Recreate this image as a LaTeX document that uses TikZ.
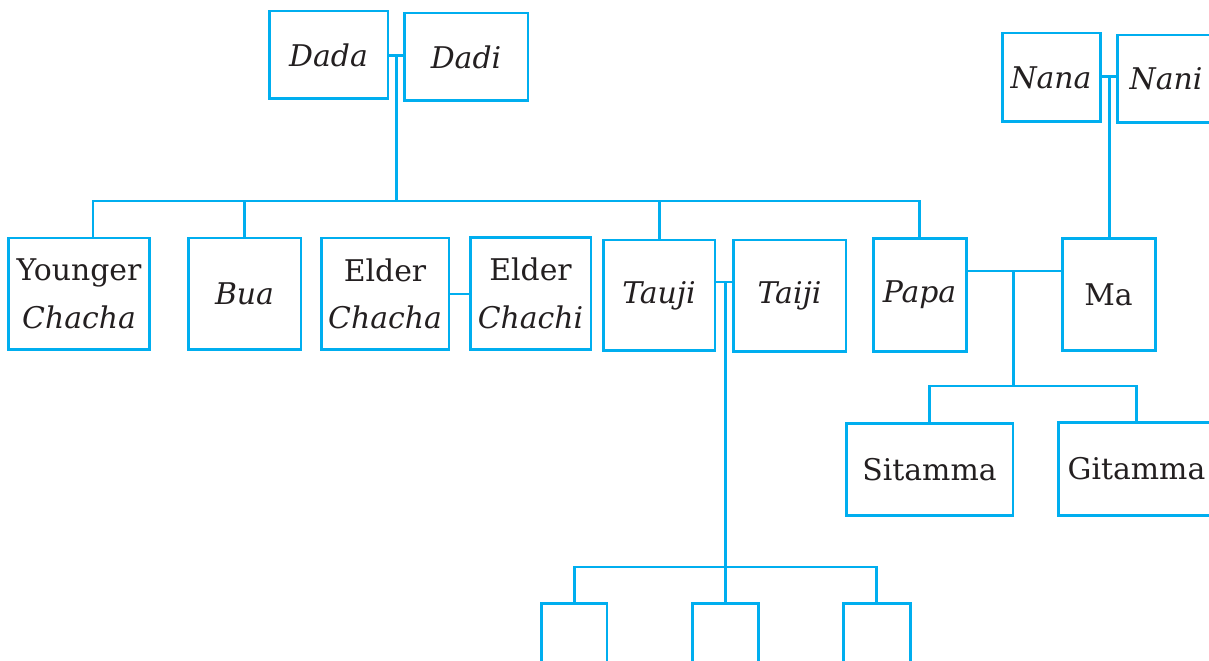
\documentclass[tikz,border=0pt]{standalone}
\usepackage{fontspec}
\setmainfont{DejaVu Serif}
\definecolor{ncyan}{RGB}{0,174,239}
\definecolor{ink}{RGB}{35,31,32}

\begin{document}
\begin{tikzpicture}[x={(0.02cm,0cm)},y={(0cm,-0.02cm)},
    box/.style={draw=ncyan,line width=1.7pt,inner sep=0pt,align=center,text=ink,
        font=\fontsize{17}{27}\selectfont},
    link/.style={draw=ncyan,line width=1.7pt}]
        \useasboundingbox (0,0) rectangle (1209,661);
        % 祖父母
        \node[box,minimum width=2.38cm,minimum height=1.76cm] (dada) at (328.5,55) {\textit{Dada}};
        \node[box,minimum width=2.48cm,minimum height=1.76cm] (dadi) at (466,57) {\textit{Dadi}};
        \node[box,minimum width=1.96cm,minimum height=1.78cm] (nana) at (1051,77.5) {\textit{Nana}};
        \node[box,minimum width=1.96cm,minimum height=1.76cm] (nani) at (1166,79) {\textit{Nani}};
        % 父辈
        \node[box,minimum width=2.84cm,minimum height=2.24cm] (ychacha) at (79,294) {Younger\\\textit{Chacha}};
        \node[box,minimum width=2.26cm,minimum height=2.24cm] (bua) at (244.5,294) {\textit{Bua}};
        \node[box,minimum width=2.56cm,minimum height=2.24cm] (echacha) at (385,294) {Elder\\\textit{Chacha}};
        \node[box,minimum width=2.42cm,minimum height=2.26cm] (echachi) at (530.5,293.5) {Elder\\\textit{Chachi}};
        \node[box,minimum width=2.24cm,minimum height=2.22cm] (tauji) at (659,295.5) {\textit{Tauji}};
        \node[box,minimum width=2.26cm,minimum height=2.24cm] (taiji) at (789.5,296) {\textit{Taiji}};
        \node[box,minimum width=1.86cm,minimum height=2.28cm] (papa) at (919.5,295) {\textit{Papa}};
        \node[box,minimum width=1.86cm,minimum height=2.26cm] (ma) at (1108.5,294.5) {Ma};
        % 子女
        \node[box,minimum width=3.34cm,minimum height=1.86cm] (sitamma) at (929.5,469.5) {Sitamma};
        \node[box,minimum width=3.14cm,minimum height=1.88cm] (gitamma) at (1136.5,469) {Gitamma};
        \node[box,minimum width=1.32cm,minimum height=1.94cm] (kid1) at (574,651.5) {};
        \node[box,minimum width=1.32cm,minimum height=1.94cm] (kid2) at (725,651.5) {};
        \node[box,minimum width=1.34cm,minimum height=1.94cm] (kid3) at (876.5,651.5) {};
        % 连线用的点
        \coordinate (dd) at (396,56);
        \coordinate (bar) at (396,201);
        \coordinate (nn) at (1109,77);
        \coordinate (tt) at (725,282);
        \coordinate (kidbar) at (725,567);
        \coordinate (pm) at (1013,271);
        \coordinate (sibbar) at (1013,386);
        % 祖父母一支
        \draw[link] (dada.east |- dd) -- (dadi.west |- dd);
        \draw[link] (dd) -- (bar);
        \draw[link] ([xshift=0.28cm]ychacha.north) |- (bar) -| (papa.north);
        \draw[link] (bua.north) -- (bua.north |- bar);
        \draw[link] (tauji.north) -- (tauji.north |- bar);
        \draw[link] (echacha.east) -- (echachi.west |- echacha.east);
        % 外祖父母
        \draw[link] (nana.east |- nn) -- (nani.west |- nn);
        \draw[link] (nn) -- (nn |- ma.north);
        % 伯父一家
        \draw[link] (tauji.east |- tt) -- (taiji.west |- tt);
        \draw[link] (tt) -- (kidbar);
        \draw[link] (kid1.north) |- (kidbar) -| (kid3.north);
        \draw[link] (kidbar) -- (kid2.north);
        % 父母一家
        \draw[link] (papa.east |- pm) -- (ma.west |- pm);
        \draw[link] (pm) -- (sibbar);
        \draw[link] (sitamma.north) |- (sibbar) -| (gitamma.north);
    \end{tikzpicture}
\end{document}
